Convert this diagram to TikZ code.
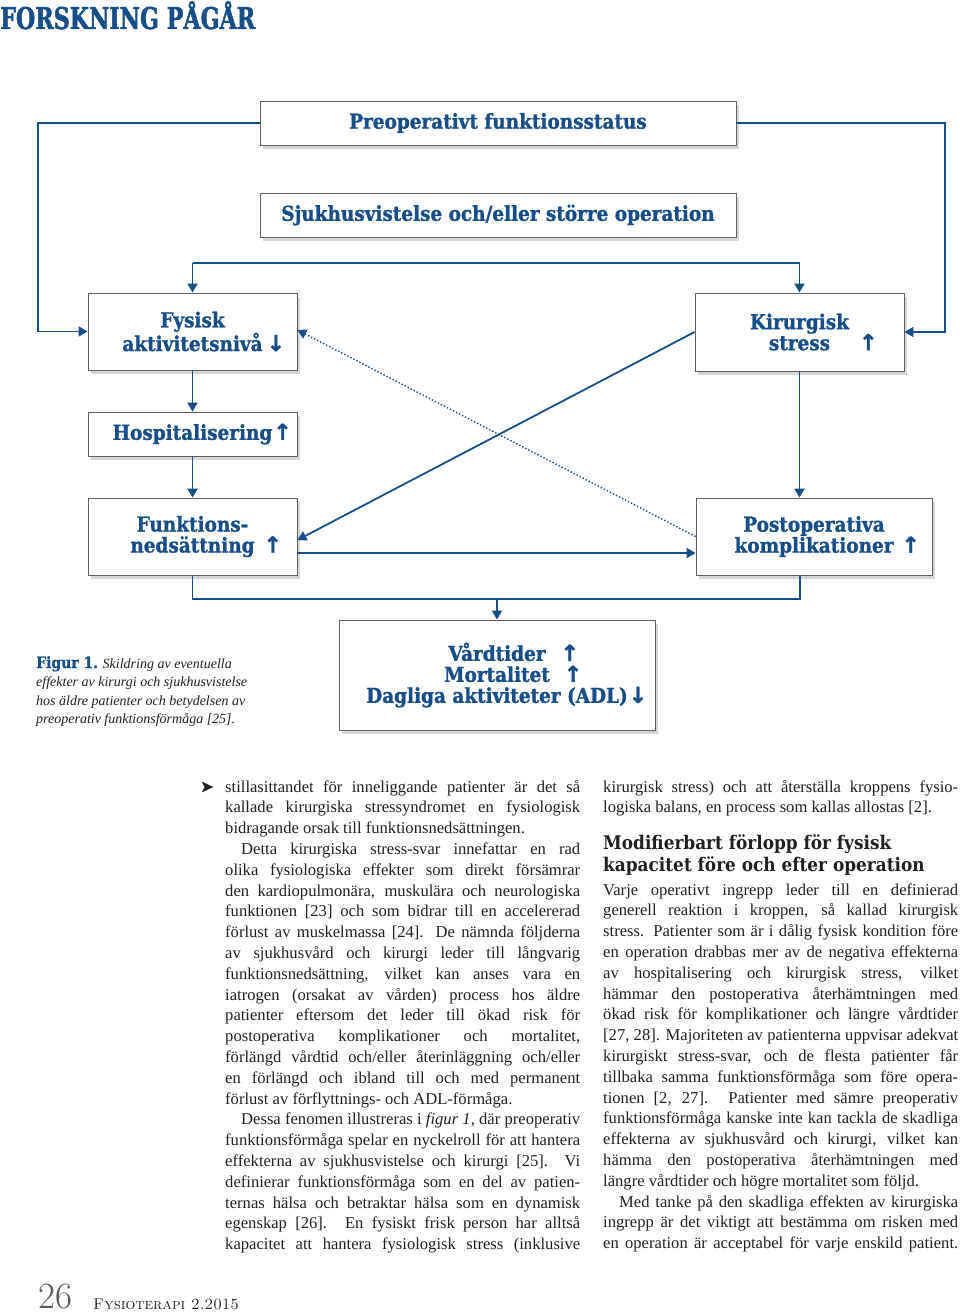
\documentclass[tikz,border=0pt]{standalone}
\usepackage{fontspec}
\usetikzlibrary{arrows.meta,shadows,calc}
\newfontfamily\slab[FakeStretch=0.9]{DejaVu Serif}
\newfontfamily\slabb[FakeStretch=0.9,FakeBold=1.2]{DejaVu Serif}
\newfontfamily\headf[FakeStretch=0.74,FakeBold=1.5]{DejaVu Serif}
\newfontfamily\bodyf{Liberation Serif}
\newfontfamily\symf[FakeBold=1.5]{DejaVu Sans}
\definecolor{fblue}{RGB}{22,78,135}
\definecolor{ink}{RGB}{35,31,32}
\definecolor{frame}{RGB}{95,95,95}
\newlength\colw \setlength\colw{355pt}
\newcommand\JL[1]{\hbox to\colw{#1}}
\newcommand\LL[1]{\hbox to\colw{#1\hfil}}
\newcommand\uparr[1]{\rlap{\hspace{#1}{\symf\bfseries\fontsize{22}{21}\selectfont ↑}}}
\newcommand\downarr[1]{\rlap{\hspace{#1}{\symf\bfseries\fontsize{22}{21}\selectfont ↓}}}
\tikzset{
  box/.style={draw=frame, line width=0.9pt, fill=white, rectangle, inner sep=0pt,
    align=center, text=fblue, font=\slabb\bfseries\fontsize{20.5}{21}\selectfont,
    drop shadow={shadow xshift=3pt, shadow yshift=-4pt, fill=black, opacity=0.16}},
  conn/.style={draw=fblue, line width=1.8pt, -{Triangle[length=9pt,width=10pt]}},
  plain/.style={draw=fblue, line width=1.8pt},
  dots/.style={draw=fblue, line width=1.4pt, dotted, -{Triangle[length=9pt,width=10pt]}},
}
\begin{document}
\begin{tikzpicture}[x=1pt,y=-1pt]
\useasboundingbox[fill=white] (0,0) rectangle (960,1314);
% header
\node[anchor=base west, inner sep=0, text=fblue] (hdr) at (0,29)
  {\headf\bfseries\fontsize{30}{30}\selectfont FORSKNING PÅGÅR};
% boxes
\node[box, minimum width=476pt, minimum height=44pt] (pre) at (498,123) {Preoperativt funktionsstatus};
\node[box, minimum width=476pt, minimum height=44pt] (sjuk) at (498,215) {Sjukhusvistelse och/eller större operation};
\node[box, minimum width=209pt, minimum height=77pt] (fys) at (192.5,331.5) {Fysisk\\aktivitetsnivå\downarr{4pt}};
\node[box, minimum width=209pt, minimum height=78pt] (kir) at (799.5,332) {Kirurgisk\\stress\uparr{29pt}};
\node[box, minimum width=209pt, minimum height=44pt] (hosp) at (192.5,434) {Hospitalisering\uparr{1pt}};
\node[box, minimum width=209pt, minimum height=77pt] (funk) at (192.5,536.5) {Funktions-\\nedsättning\uparr{9pt}};
\node[box, minimum width=236pt, minimum height=77pt] (post) at (814,536.5) {Postoperativa\\komplikationer\uparr{8pt}};
\node[box, minimum width=316pt, minimum height=110pt] (res) at (497,675)
  {Vårdtider\uparr{15pt}\\Mortalitet\uparr{14pt}\\Dagliga aktiviteter (ADL)\downarr{1pt}};
% helper coordinates
\coordinate (lc) at (38,0);
\coordinate (rc) at (945,0);
\coordinate (spl) at (0,263);
\coordinate (bl) at (0,599);
% connectors
\draw[conn] (pre.west) -- (pre.west -| lc) |- (fys.west);
\draw[conn] (pre.east) -- (pre.east -| rc) |- (kir.east);
\draw[plain] (fys.north |- spl) -- (kir.north |- spl);
\draw[conn] (fys.north |- spl) -- (fys.north);
\draw[conn] (kir.north |- spl) -- (kir.north);
\draw[conn] (fys.south) -- (hosp.north);
\draw[conn] (hosp.south) -- (funk.north);
\draw[conn] (kir.south) -- (kir.south |- post.north);
\draw[conn] (kir.west) -- ([yshift=-3.5pt]funk.east);
\draw[dots] (post.west) -- ([yshift=1.5pt]fys.east);
\draw[conn] ([yshift=-16.5pt]funk.east) -- ([yshift=-16.5pt]post.west);
\draw[plain] (funk.south) |- ([xshift=-14pt]post.south |- bl) -- ([xshift=-14pt]post.south);
\draw[conn] (res.north |- bl) -- (res.north);
% caption
\node[anchor=base west, inner sep=0, text=ink] (cap) at (36,668) {\begin{minipage}[t]{260pt}
\bodyf\itshape\fontsize{14}{18.5}\selectfont
\hbox{{\upshape\slabb\bfseries\color{fblue}\fontsize{15.5}{18}\selectfont Figur 1.} Skildring av eventuella}
\hbox{effekter av kirurgi och sjukhusvistelse}
\hbox{hos äldre patienter och betydelsen av}
\hbox{preoperativ funktionsförmåga [25].}
\end{minipage}};
% bullet
\node[anchor=base, inner sep=0, text=ink] (bul) at (207,792) {\symf\fontsize{16}{16}\selectfont ➤};
% column 1
\node[anchor=base west, inner sep=0, text=ink] (colA) at (225,792) {\begin{minipage}[t]{\colw}
\bodyf\fontsize{16.6}{20.8}\selectfont
\JL{stillasittandet för inneliggande patienter är det så}
\JL{kallade kirurgiska stressyndromet en fysiologisk}
\LL{bidragande orsak till funktionsnedsättningen.}
\JL{\hspace*{16pt}Detta kirurgiska stress-svar innefattar en rad}
\JL{olika fysiologiska effekter som direkt försämrar}
\JL{den kardiopulmonära, muskulära och neurologiska}
\JL{funktionen [23] och som bidrar till en accelererad}
\JL{förlust av muskelmassa [24]. De nämnda följderna}
\JL{av sjukhusvård och kirurgi leder till långvarig}
\JL{funktionsnedsättning, vilket kan anses vara en}
\JL{iatrogen (orsakat av vården) process hos äldre}
\JL{patienter eftersom det leder till ökad risk för}
\JL{postoperativa komplikationer och mortalitet,}
\JL{förlängd vårdtid och/eller återinläggning och/eller}
\JL{en förlängd och ibland till och med permanent}
\LL{förlust av förflyttnings- och ADL-förmåga.}
\JL{\hspace*{16pt}Dessa fenomen illustreras i \textit{figur 1}, där preoperativ}
\JL{funktionsförmåga spelar en nyckelroll för att hantera}
\JL{effekterna av sjukhusvistelse och kirurgi [25]. Vi}
\JL{definierar funktionsförmåga som en del av patien-}
\JL{ternas hälsa och betraktar hälsa som en dynamisk}
\JL{egenskap [26]. En fysiskt frisk person har alltså}
\JL{kapacitet att hantera fysiologisk stress (inklusive}
\end{minipage}};
% column 2
\node[anchor=base west, inner sep=0, text=ink] (colB1) at (603,792) {\begin{minipage}[t]{\colw}
\bodyf\fontsize{16.6}{20.8}\selectfont
\JL{kirurgisk stress) och att återställa kroppens fysio-}
\LL{logiska balans, en process som kallas allostas [2].}
\end{minipage}};
\node[anchor=base west, inner sep=0, text=ink] (head) at (603,849) {\begin{minipage}[t]{\colw}
\slab\bfseries\fontsize{18.8}{22}\selectfont
\hbox{Modifierbart förlopp för fysisk}
\hbox{kapacitet före och efter operation}
\end{minipage}};
\node[anchor=base west, inner sep=0, text=ink] (colB2) at (603,895) {\begin{minipage}[t]{\colw}
\bodyf\fontsize{16.6}{20.8}\selectfont
\JL{Varje operativt ingrepp leder till en definierad}
\JL{generell reaktion i kroppen, så kallad kirurgisk}
\JL{stress. Patienter som är i dålig fysisk kondition före}
\JL{en operation drabbas mer av de negativa effekterna}
\JL{av hospitalisering och kirurgisk stress, vilket}
\JL{hämmar den postoperativa återhämtningen med}
\JL{ökad risk för komplikationer och längre vårdtider}
\JL{[27, 28]. Majoriteten av patienterna uppvisar adekvat}
\JL{kirurgiskt stress-svar, och de flesta patienter får}
\JL{tillbaka samma funktionsförmåga som före opera-}
\JL{tionen [2, 27]. Patienter med sämre preoperativ}
\JL{funktionsförmåga kanske inte kan tackla de skadliga}
\JL{effekterna av sjukhusvård och kirurgi, vilket kan}
\JL{hämma den postoperativa återhämtningen med}
\LL{längre vårdtider och högre mortalitet som följd.}
\JL{\hspace*{16pt}Med tanke på den skadliga effekten av kirurgiska}
\JL{ingrepp är det viktigt att bestämma om risken med}
\JL{en operation är acceptabel för varje enskild patient.}
\end{minipage}};
% footer
\node[anchor=base west, inner sep=0, text=ink!75] (pg) at (38,1308) {\fontsize{37}{37}\selectfont 26};
\node[anchor=base west, inner sep=0, text=ink] (mag) at (93,1309) {\fontsize{15.5}{15.5}\selectfont\textsc{Fysioterapi 2.2015}};
\end{tikzpicture}
\end{document}
